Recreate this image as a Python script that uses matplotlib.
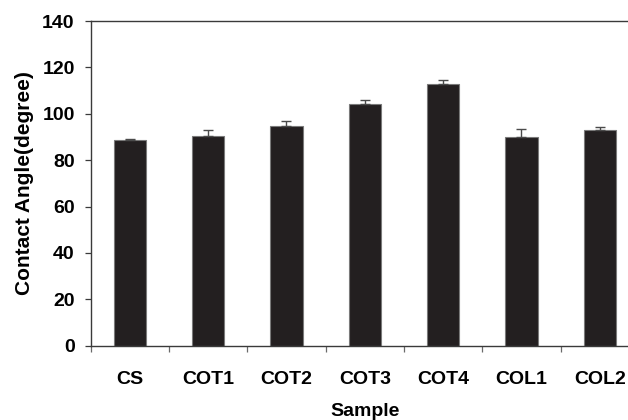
import numpy as np
from matplotlib import pyplot as plt
from matplotlib.ticker import FixedLocator

plt.rcParams["font.family"] = ["Liberation Sans", "DejaVu Sans"]
plt.rcParams["font.weight"] = "bold"

# Contact angle per sample, with the upper error only.
samples = ["CS", "COT1", "COT2", "COT3", "COT4", "COL1", "COL2"]
angle = [88.6, 90.5, 94.6, 104.0, 112.7, 89.8, 93.1]
angle_err = [0.7, 2.5, 2.4, 2.0, 1.7, 3.5, 1.0]

bar_color = "#231f20"
axis_color = "#3a3a3a"

fig = plt.figure(figsize=(6.28, 4.20), dpi=100)
# the right side of the frame runs past the edge of the canvas
ax = fig.add_axes([0.1444, 0.177, 0.873, 0.773])

x = np.arange(len(samples))
ax.bar(
    x,
    angle,
    width=0.41,
    color=bar_color,
    edgecolor="#7a7a7a",
    linewidth=0.8,
    yerr=[np.zeros(len(angle)), angle_err],
    error_kw=dict(ecolor="#4a4a4a", elinewidth=1.0, capsize=3.5, capthick=1.0),
    zorder=2,
)

ax.set_xlim(-0.5, len(samples) - 0.5)
ax.set_ylim(0, 140)
ax.set_yticks(np.arange(0, 141, 20))

# labels sit under the bars, tick marks sit between categories
ax.set_xticks(x)
ax.set_xticklabels(samples)
ax.xaxis.set_minor_locator(FixedLocator(np.arange(-0.5, len(samples), 1.0)))
ax.tick_params(axis="x", which="major", length=0, pad=18, labelsize=14)
ax.tick_params(axis="x", which="minor", length=4.5, width=0.9, color="#6a6a6a", direction="out")
ax.tick_params(axis="y", length=4, width=0.9, color=axis_color, pad=7.5, labelsize=14)

for side in ["left", "bottom", "top", "right"]:
    ax.spines[side].set_color(axis_color)
    ax.spines[side].set_linewidth(1.0)

ax.set_xlabel("Sample", fontsize=14, fontweight="bold")
ax.set_ylabel("Contact Angle(degree)", fontsize=15, fontweight="bold")
ax.xaxis.set_label_coords(0.5, -0.178)
ax.yaxis.set_label_coords(-0.104, 0.5)

fig.savefig("out.png", dpi=100)
